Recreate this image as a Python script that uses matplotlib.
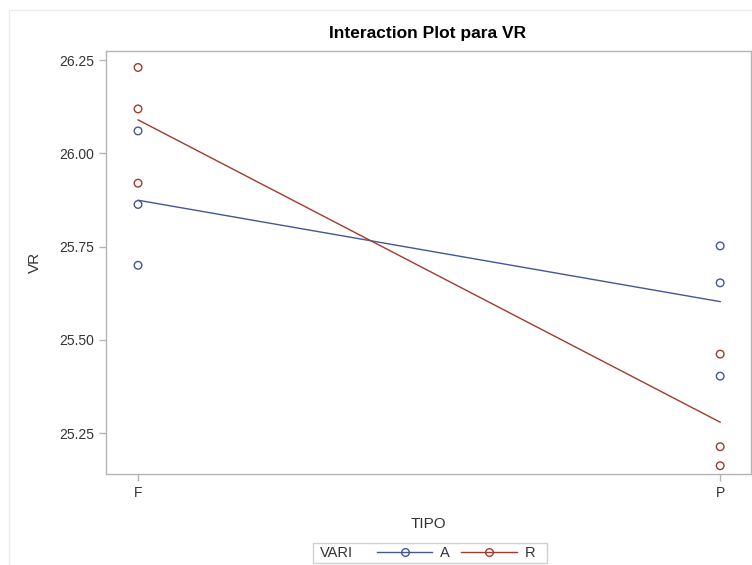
import matplotlib.pyplot as plt
from matplotlib.patches import Rectangle
from matplotlib.lines import Line2D
import numpy as np

plt.rcParams['font.family'] = ['Liberation Sans', 'DejaVu Sans']

# observations per TIPO level, by VARI group
tipo_levels = ['F', 'P']
a_F = [26.06, 25.863, 25.70]
a_P = [25.752, 25.653, 25.403]
r_F = [26.23, 26.119, 25.92]
r_P = [25.462, 25.214, 25.163]
y_ticks = [25.25, 25.50, 25.75, 26.00, 26.25]

blue = '#445694'
red = '#A23A2E'
axis_gray = '#b4b4b4'
text_col = '#333333'

fig = plt.figure(figsize=(7.52, 5.65), dpi=100)
ax = fig.add_axes([0.1406, 0.1605, 0.8581, 0.7498])

x = np.arange(len(tipo_levels))
groups = [('A', a_F, a_P, blue), ('R', r_F, r_P, red)]
handles = []
for name, vf, vp, col in groups:
    ax.scatter([x[0]] * len(vf), vf, s=30, facecolors='none', edgecolors=col, linewidths=1, zorder=3)
    ax.scatter([x[1]] * len(vp), vp, s=30, facecolors='none', edgecolors=col, linewidths=1, zorder=3)
    means = [np.mean(vf), np.mean(vp)]
    ax.plot(x, means, color=col, lw=1, zorder=2)
    handles.append(Line2D([], [], color=col, lw=1, marker='o', markersize=5.5,
                          markerfacecolor='none', markeredgecolor=col, label=name))

ax.set_xlim(-0.0555, 1.053)
ax.set_ylim(25.140, 26.275)
ax.set_xticks(x)
ax.set_xticklabels(tipo_levels)
ax.set_yticks(y_ticks)
ax.set_yticklabels(['%.2f' % v for v in y_ticks])
ax.tick_params(colors=axis_gray, labelcolor=text_col, labelsize=10, length=5, width=1)
for s in ax.spines.values():
    s.set_color(axis_gray)
    s.set_linewidth(1)

ax.set_xlabel('TIPO', fontsize=11, color=text_col, labelpad=12)
ax.set_ylabel('VR', fontsize=11, color=text_col, labelpad=12)
fig.text(0.569, 0.9407, 'Interaction Plot para VR', ha='center', va='center',
         fontsize=12.5, fontweight='bold', color='black')

# outer frame
fig.patches.append(Rectangle((9 / 752, -0.05), 1.1, 1.05 - 10 / 565,
                             transform=fig.transFigure, fill=False,
                             edgecolor='#ebebeb', lw=1))

# legend: "VARI" title on the left inside a box
box_x0, box_y0, box_w, box_h = 313 / 752, 2 / 565, 234 / 752, 20 / 565
fig.patches.append(Rectangle((box_x0, box_y0), box_w, box_h, transform=fig.transFigure,
                             fill=False, edgecolor='#d0d0d0', lw=1))
fig.text(320 / 752, box_y0 + box_h / 2, 'VARI', ha='left', va='center', fontsize=10.5, color=text_col)
fig.legend(handles=handles, ncol=2, frameon=False, fontsize=10.5,
           loc='center left', bbox_to_anchor=(377 / 752, box_y0 + box_h / 2),
           handlelength=3.8, handletextpad=0.55, columnspacing=0.75,
           borderaxespad=0, borderpad=0, labelcolor=text_col)

fig.savefig('out.png', dpi=100)
